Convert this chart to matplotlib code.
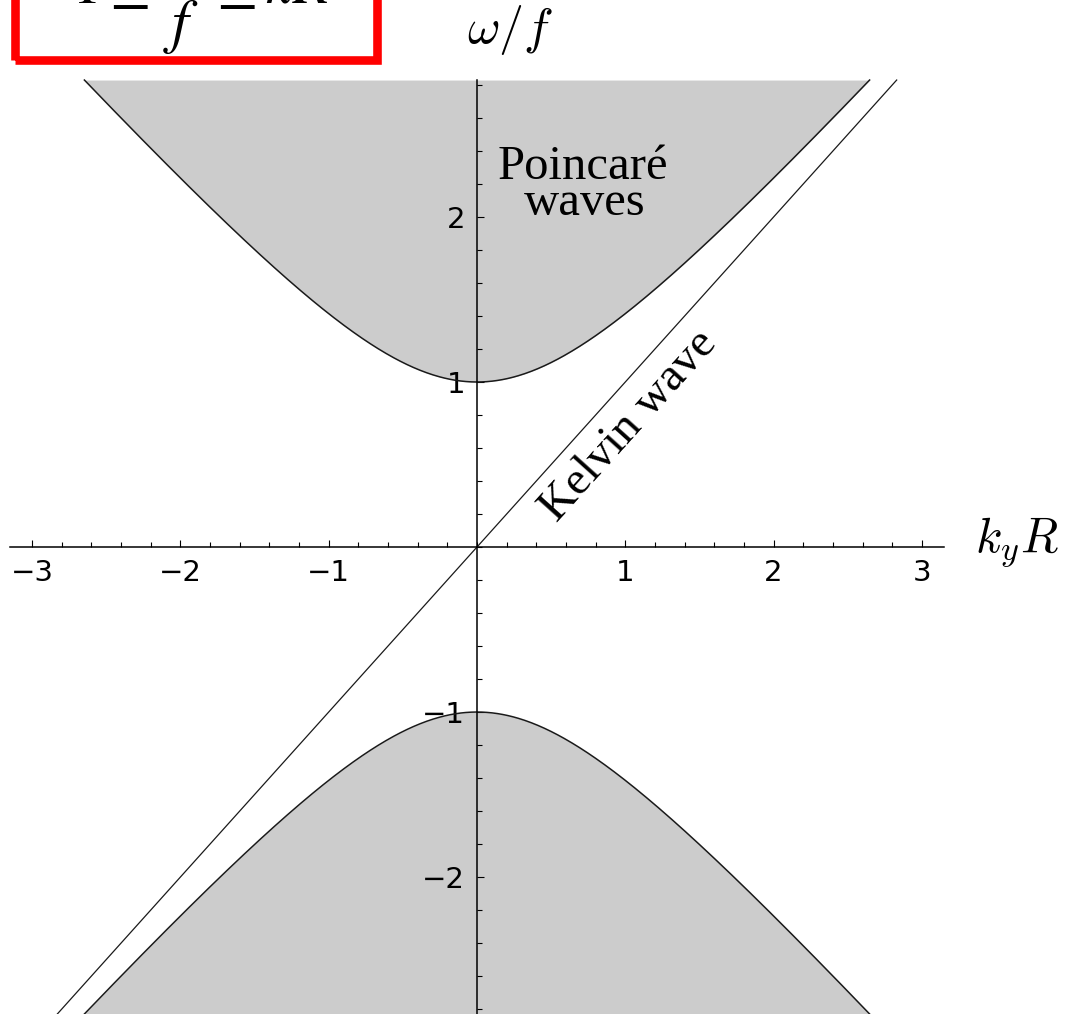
import numpy as np
import matplotlib.pyplot as plt
from matplotlib.patches import Rectangle

W, H, DPI = 1065, 1014, 100

# view window and axis extents (units of f and 1/R)
xlim = (-3.2165, 3.965)
ylim = (-2.83, 3.315)
x_axis_span = (-3.15, 3.15)
y_axis_span = (-2.83, 2.83)

x_major = [-3, -2, -1, 1, 2, 3]
y_major = [-2, -1, 1, 2]
minor_step = 0.2

# dispersion: Poincare waves omega^2 = f^2 (1 + (k R)^2), Kelvin wave omega = k c
omega_top = 2.83
omega_bottom = -2.83

gray = '#cccccc'
ink = '#1a1a1a'


def poincare(k):
    return np.sqrt(1 + k**2)


fig = plt.figure(figsize=(W / DPI, H / DPI), dpi=DPI)
ax = fig.add_axes([0, 0, 1, 1])
ax.set_xlim(*xlim)
ax.set_ylim(*ylim)

# upper band
kmax = np.sqrt(omega_top**2 - 1)
k = np.linspace(-kmax, kmax, 600)
ax.fill_between(k, poincare(k), omega_top, color=gray, lw=0)
ax.plot(k, poincare(k), color=ink, lw=1.1)

# lower band
kmax = np.sqrt(omega_bottom**2 - 1)
k = np.linspace(-kmax, kmax, 600)
ax.fill_between(k, -poincare(k), omega_bottom - 0.05, color=gray, lw=0)
ax.plot(k, -poincare(k), color=ink, lw=1.1)

# Kelvin wave
kk = np.array([omega_bottom - 0.05, omega_top])
ax.plot(kk, kk, color=ink, lw=0.9)

# axes through the origin
for side in ['top', 'right']:
    ax.spines[side].set_visible(False)
ax.spines['left'].set_position(('data', 0))
ax.spines['bottom'].set_position(('data', 0))
ax.spines['bottom'].set_bounds(*x_axis_span)
ax.spines['left'].set_bounds(y_axis_span[0] - 0.05, y_axis_span[1])
for side in ['left', 'bottom']:
    ax.spines[side].set_linewidth(1.1)
    ax.spines[side].set_zorder(5)

ax.set_xticks(x_major)
ax.set_yticks(y_major)
ax.set_xticks(np.round(np.arange(-3.0, 3.01, minor_step), 2), minor=True)
ax.set_yticks(np.round(np.arange(-2.8, 2.81, minor_step), 2), minor=True)
ax.tick_params(which='major', direction='in', length=5, width=0.8, labelsize=21, pad=8.5)
ax.tick_params(which='minor', direction='in', length=3.5, width=0.8)
ax.set_xticklabels(['\u22123', '\u22122', '\u22121', '1', '2', '3'])
ax.set_yticklabels(['\u22122', '\u22121', '1', '2'])

# axis names
ax.text(0.22, 3.055, r'$\omega/f$', fontsize=36, ha='center', va='baseline',
        math_fontfamily='cm')
ax.text(3.36, -0.03, r'$k_yR$', fontsize=35, ha='left', va='baseline',
        math_fontfamily='cm')

# region labels
serif = 'Liberation Serif'
ax.text(0.715, 2.23, 'Poincaré', fontsize=35, family=serif, ha='center', va='baseline')
ax.text(0.728, 2.012, 'waves', fontsize=35, family=serif, ha='center', va='baseline')
ax.text(1.025, 0.733, 'Kelvin wave', fontsize=34, family=serif, ha='center',
        va='center', rotation=48, rotation_mode='anchor')

# boxed inequality in the corner
fig.add_artist(Rectangle((14.5 / W, 1 - 59.5 / H), 362.5 / W, 120 / H,
                         transform=fig.transFigure, fill=False, ec='red', lw=6.2))
fig.text(200 / W, 1 - 4 / H, r'$1 \leq \dfrac{\omega}{f} \leq kR$', fontsize=43,
         ha='center', va='baseline', math_fontfamily='stix')

fig.savefig('out.png', dpi=DPI)
